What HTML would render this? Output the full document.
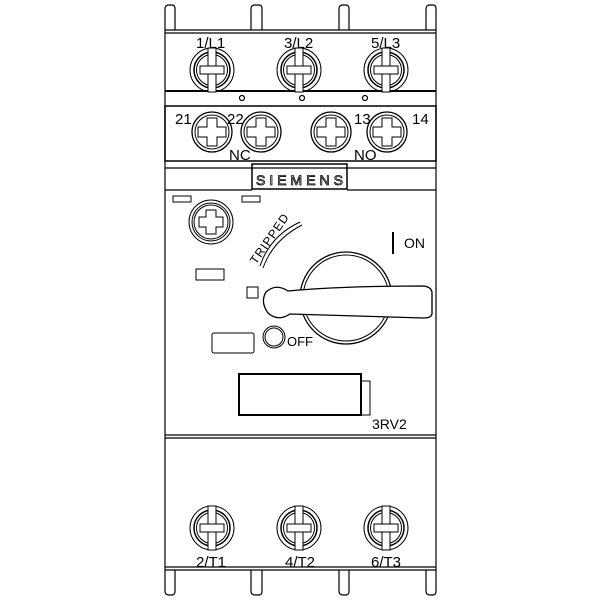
<!DOCTYPE html>
<html><head><meta charset="utf-8"><style>html,body{margin:0;padding:0;background:#fff}svg{display:block}</style></head>
<body>
<svg width="600" height="600" viewBox="0 0 600 600" xmlns="http://www.w3.org/2000/svg" font-family="Liberation Sans, sans-serif">
<g fill="none" stroke="#000" stroke-width="1.2">
<path d="M165,30 V9 Q165,5 169,5 H172 Q175,5 175,9 V30"/>
<path d="M251,30 V9 Q251,5 255,5 H259 Q262,5 262,9 V30"/>
<path d="M339,30 V9 Q339,5 343,5 H346 Q349,5 349,9 V30"/>
<path d="M426,30 V9 Q426,5 430,5 H433 Q436,5 436,9 V30"/>
<path d="M165,570 V591 Q165,595 169,595 H172 Q175,595 175,591 V570"/>
<path d="M251,570 V591 Q251,595 255,595 H259 Q262,595 262,591 V570"/>
<path d="M339,570 V591 Q339,595 343,595 H346 Q349,595 349,591 V570"/>
<path d="M426,570 V591 Q426,595 430,595 H433 Q436,595 436,591 V570"/>
<path d="M165,30 H436 M165,33 H436"/>
<path d="M165,30 V570 M436,30 V570"/>
<path d="M165,91 H436" stroke-width="2"/>
<rect x="165" y="106" width="271" height="55" stroke-width="1.5"/>
<path d="M165,168 H436"/>
<rect x="252" y="164" width="95" height="25" stroke-width="1.5"/>
<path d="M165,190 H252 M347,190 H436"/>
<path d="M165,435 H436 M165,438 H436"/>
<path d="M165,567 H436 M165,570 H436"/>
<circle cx="242" cy="98" r="2.5"/><circle cx="302" cy="98" r="2.5"/><circle cx="365" cy="98" r="2.5"/>
</g>
<g fill="none" stroke="#000" stroke-width="1">
<g id="t1">
<circle cx="212" cy="70" r="22"/><circle cx="212" cy="70" r="18" stroke-width="1.5"/><circle cx="212" cy="70" r="15.5"/>
<rect x="208" y="48" width="8" height="44" fill="#fff"/><rect x="200" y="66" width="24" height="8" fill="#fff"/>
</g>
<use href="#t1" x="87"/><use href="#t1" x="174"/>
<use href="#t1" y="458"/><use href="#t1" x="87" y="458"/><use href="#t1" x="174" y="458"/>
<g id="a1">
<circle cx="212" cy="132" r="20" stroke-width="1.3"/><circle cx="212" cy="132" r="17"/>
<path d="M207,118 h10 v9 h9 v10 h-9 v9 h-10 v-9 h-9 v-10 h9 z"/>
</g>
<use href="#a1" x="49"/><use href="#a1" x="119"/><use href="#a1" x="175"/>
<circle cx="211" cy="222" r="22"/><circle cx="211" cy="222" r="19"/><circle cx="211" cy="222" r="17"/>
<path d="M206,210 h10 v7 h7 v10 h-7 v7 h-10 v-7 h-7 v-10 h7 z"/>
<rect x="173" y="196" width="18" height="6"/><rect x="242" y="196" width="18" height="6"/>
<rect x="196" y="269" width="28" height="11"/>
<path d="M260,266 Q270,236 300,222 M263,268 Q273,240 302,225"/>
<circle cx="346" cy="298" r="46" stroke-width="1.3"/><circle cx="346" cy="298" r="43"/>
<path d="M288,291 Q340,286 424,286 Q431,287 432,292 V314 Q431,318 424,318 Q360,316 290,314 Q278,322 268,313 Q260,302 266,292 Q276,283 288,291 Z" fill="#fff" stroke-width="1.3"/>
<rect x="247" y="287" width="11" height="11"/>
<rect x="212" y="333" width="42" height="20" rx="2"/>
<circle cx="274" cy="337" r="11"/><circle cx="274" cy="337" r="9"/>
<rect x="239" y="374" width="122" height="41" stroke-width="2"/>
<rect x="361" y="381" width="9" height="34"/>
<path d="M393,232 V254" stroke-width="2"/>
</g>
<g font-size="15" fill="#000">
<text x="196" y="48">1/L1</text><text x="284" y="48">3/L2</text><text x="371" y="48">5/L3</text>
<text x="175" y="124">21</text><text x="227" y="124">22</text><text x="354" y="124">13</text><text x="412" y="124">14</text>
<text x="229" y="160">NC</text><text x="354" y="160">NO</text>
<text x="196" y="567">2/T1</text><text x="285" y="567">4/T2</text><text x="371" y="567">6/T3</text>
<text x="404" y="248" font-size="14">ON</text>
<text x="287" y="346" font-size="13">OFF</text>
<text x="372" y="429" font-size="14">3RV2</text>
<text x="256" y="185" font-size="14" fill="none" stroke="#000" stroke-width="0.8" textLength="87">SIEMENS</text>
<text x="0" y="0" font-size="12" textLength="58" transform="translate(256,265) rotate(-55)">TRIPPED</text>
</g>
</svg>
</body></html>
